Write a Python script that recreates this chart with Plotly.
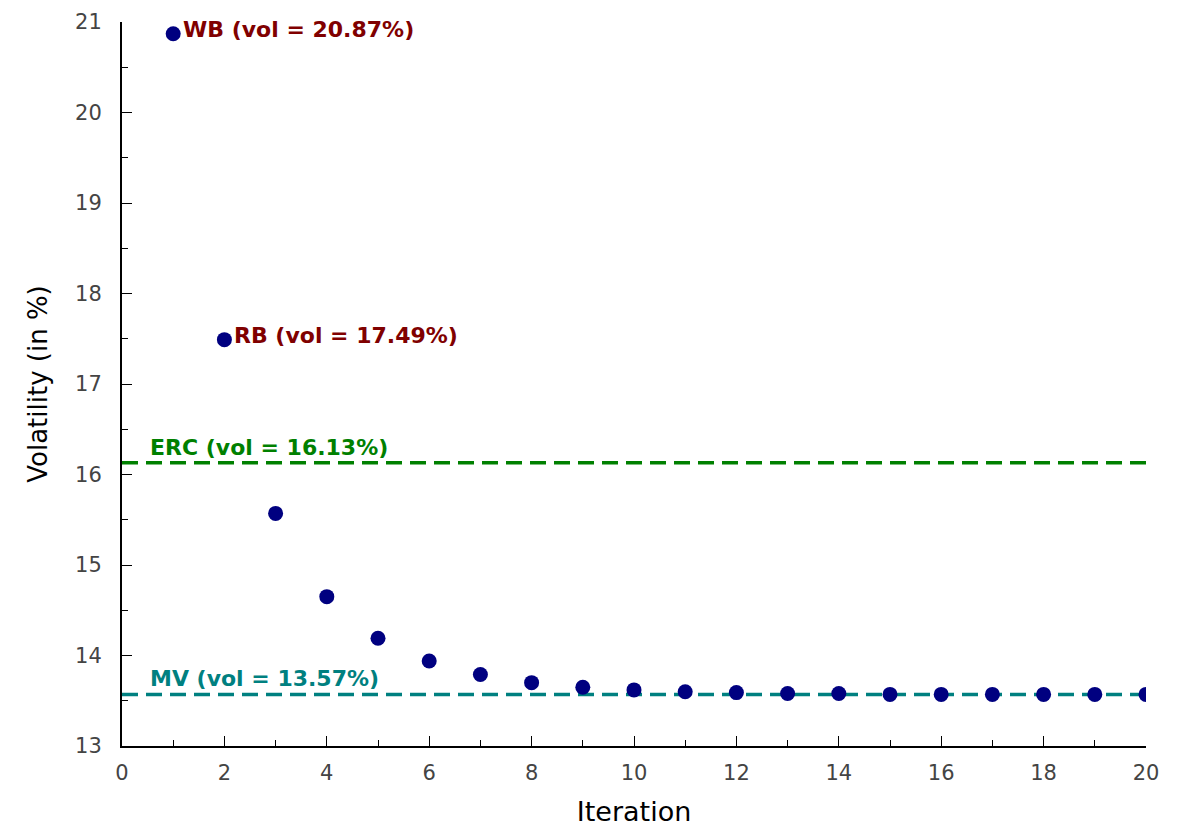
import plotly.graph_objects as go

iterations = list(range(1, 21))
volatility = [20.87, 17.49, 15.57, 14.65, 14.19, 13.94, 13.79, 13.70, 13.65, 13.62,
              13.60, 13.59, 13.58, 13.58, 13.57, 13.57, 13.57, 13.57, 13.57, 13.57]
erc_vol = 16.13
mv_vol = 13.57
point_labels = {1: "WB (vol = 20.87%)", 2: "RB (vol = 17.49%)"}
line_labels = ["ERC (vol = 16.13%)", "MV (vol = 13.57%)"]

fig = go.Figure()
fig.add_trace(go.Scatter(x=[0, 20], y=[erc_vol, erc_vol], mode="lines",
                         line=dict(color="#008000", width=3.5, dash="16px,8px"), hoverinfo="skip"))
fig.add_trace(go.Scatter(x=[0, 20], y=[mv_vol, mv_vol], mode="lines",
                         line=dict(color="#008080", width=3.5, dash="16px,8px"), hoverinfo="skip"))
fig.add_trace(go.Scatter(x=iterations, y=volatility, mode="markers",
                         marker=dict(color="#000080", size=15, line=dict(width=0))))

afont = dict(family="DejaVu Sans", size=22, color="#800000")
for it, txt in point_labels.items():
    fig.add_annotation(x=it, y=volatility[it - 1], text="<b>" + txt + "</b>", showarrow=False,
                       xanchor="left", yanchor="middle", xshift=8, yshift=4, font=afont)
fig.add_annotation(x=0.5, y=erc_vol, text="<b>" + line_labels[0] + "</b>", showarrow=False,
                   xanchor="left", yanchor="bottom", yshift=1,
                   font=dict(family="DejaVu Sans", size=22, color="#008000"))
fig.add_annotation(x=0.5, y=mv_vol, text="<b>" + line_labels[1] + "</b>", showarrow=False,
                   xanchor="left", yanchor="bottom", yshift=1,
                   font=dict(family="DejaVu Sans", size=22, color="#008080"))

tickfont = dict(family="DejaVu Sans", size=21, color="#444")
fig.update_layout(
    width=1180, height=828, showlegend=False,
    plot_bgcolor="white", paper_bgcolor="white",
    margin=dict(l=114, r=42, t=14, b=90, autoexpand=False),
    xaxis=dict(range=[0, 20], tickvals=list(range(0, 21, 2)), showgrid=False, zeroline=False,
               showline=True, linecolor="black", linewidth=2, ticks="inside", ticklen=10,
               tickcolor="black", tickwidth=1, tickfont=tickfont, ticklabelstandoff=7,
               minor=dict(tickvals=list(range(1, 20, 2)), ticks="inside", ticklen=6, tickcolor="black"),
               title=dict(text="Iteration", font=dict(family="DejaVu Sans", size=27, color="black"), standoff=18)),
    yaxis=dict(range=[13, 21], tickvals=list(range(13, 22)), showgrid=False, zeroline=False,
               showline=True, linecolor="black", linewidth=2, ticks="inside", ticklen=10,
               tickcolor="black", tickwidth=1, tickfont=tickfont, ticklabelstandoff=14,
               minor=dict(tickvals=[13.5 + i for i in range(8)], ticks="inside", ticklen=6, tickcolor="black"),
               title=dict(text="Volatility (in %)", font=dict(family="DejaVu Sans", size=26, color="black"), standoff=20)),
)
fig.write_html("out.html")
